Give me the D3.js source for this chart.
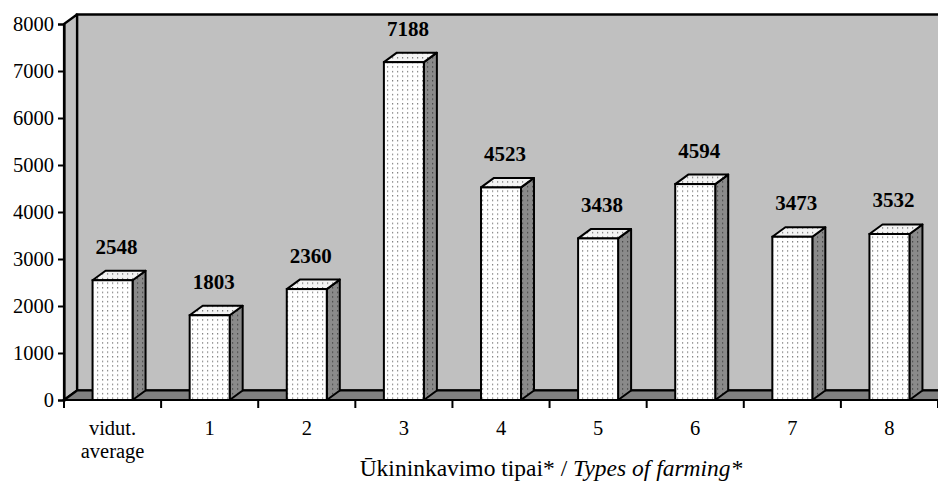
<!DOCTYPE html>
<html>
<head>
<meta charset="utf-8">
<script src="https://cdn.jsdelivr.net/npm/d3@7/dist/d3.min.js"></script>
<style>
html,body{margin:0;padding:0;background:#fff;}
svg{display:block;}
text{font-family:"Liberation Serif","Times New Roman",serif;fill:#000;}
</style>
</head>
<body>
<svg id="chart" width="938" height="482"></svg>
<script>
const categories = ["vidut.|average", "1", "2", "3", "4", "5", "6", "7", "8"];
const values = [2548, 1803, 2360, 7188, 4523, 3438, 4594, 3473, 3532];
const yTicks = [0, 1000, 2000, 3000, 4000, 5000, 6000, 7000, 8000];
const titleMain = "Ūkininkavimo tipai* / ";
const titleItalic = "Types of farming*";

(function () {
const svg = d3.select("#chart");
const W = 938;
const pLeft = 64, pRight = 938, pBottom = 400, pTop = 24;
const dx = 13, dy = -9.5;
const barW = 40;

const x = d3.scaleBand().domain(categories).range([pLeft, pRight]).padding(0);
const y = d3.scaleLinear().domain([0, 8000]).range([pBottom, pTop]);

const defs = svg.append("defs");
function dots(id, bg, dot) {
  const p = defs.append("pattern").attr("id", id).attr("patternUnits", "userSpaceOnUse")
    .attr("width", 5).attr("height", 4.6);
  p.append("rect").attr("width", 5).attr("height", 4.6).attr("fill", bg);
  p.append("rect").attr("x", 2).attr("y", 2).attr("width", 1.2).attr("height", 1.2).attr("fill", dot);
}
dots("dFront", "#ffffff", "#6a6a6a");
dots("dTop", "#f4f4f4", "#666666");
dots("dSide", "#8a8a8a", "#3a3a3a");

const y8 = y(8000), y0 = y(0);
// back wall
svg.append("rect").attr("x", pLeft + dx).attr("y", y8 + dy)
  .attr("width", W + 20 - (pLeft + dx)).attr("height", (y0 + dy) - (y8 + dy))
  .attr("fill", "#c0c0c0").attr("stroke", "#000").attr("stroke-width", 2.5);
// left wall
svg.append("path").attr("d", `M${pLeft},${y0}L${pLeft+dx},${y0+dy}L${pLeft+dx},${y8+dy}L${pLeft},${y8}Z`)
  .attr("fill", "#c0c0c0").attr("stroke", "#000").attr("stroke-width", 2.2).attr("stroke-linejoin", "round");
// floor
svg.append("path").attr("d", `M${pLeft},${y0}L${pLeft+dx},${y0+dy}L${W+30},${y0+dy}L${W+30},${y0}Z`)
  .attr("fill", "#808080").attr("stroke", "#000").attr("stroke-width", 2.2);

// bars
const bars = svg.append("g");
categories.forEach((c, i) => {
  const cx = x(c) + x.bandwidth() / 2;
  const x0 = cx - barW / 2, x1 = cx + barW / 2;
  const yt = y(values[i]);
  const g = bars.append("g");
  g.append("path").attr("d", `M${x1},${y0}L${x1+dx},${y0+dy}L${x1+dx},${yt+dy}L${x1},${yt}Z`)
    .attr("fill", "url(#dSide)").attr("stroke", "#000").attr("stroke-width", 2).attr("stroke-linejoin", "round");
  g.append("path").attr("d", `M${x0},${yt}L${x0+dx},${yt+dy}L${x1+dx},${yt+dy}L${x1},${yt}Z`)
    .attr("fill", "url(#dTop)").attr("stroke", "#000").attr("stroke-width", 2).attr("stroke-linejoin", "round");
  g.append("rect").attr("x", x0).attr("y", yt).attr("width", barW).attr("height", y0 - yt)
    .attr("fill", "url(#dFront)").attr("stroke", "#000").attr("stroke-width", 2);
  svg.append("text").attr("x", cx + 4).attr("y", yt + dy - 17)
    .attr("text-anchor", "middle").attr("font-weight", "bold").attr("font-size", "21px")
    .text(values[i]);
});

// y axis
const yAxis = d3.axisLeft(y).tickValues(yTicks).tickSize(6).tickPadding(4).tickFormat(d3.format("d"));
const ya = svg.append("g").attr("transform", `translate(${pLeft},0)`).call(yAxis);
ya.select(".domain").attr("stroke", "#000").attr("stroke-width", 2.2);
ya.selectAll(".tick line").attr("stroke", "#000").attr("stroke-width", 2);
ya.selectAll(".tick text").attr("font-size", "20.5px").attr("font-family", "Liberation Serif, Times New Roman, serif").attr("fill", "#000");

// x axis line + boundary ticks
svg.append("line").attr("x1", pLeft).attr("x2", W + 30).attr("y1", y0).attr("y2", y0)
  .attr("stroke", "#000").attr("stroke-width", 2.2);
const bounds = categories.map(c => x(c)).concat([x(categories[categories.length - 1]) + x.bandwidth()]);
svg.append("g").selectAll("line").data(bounds).join("line")
  .attr("x1", d => d).attr("x2", d => d).attr("y1", y0).attr("y2", y0 + 8)
  .attr("stroke", "#000").attr("stroke-width", 2);

// category labels
categories.forEach(c => {
  const cx = x(c) + x.bandwidth() / 2;
  const parts = c.split("|");
  parts.forEach((p, j) => {
    svg.append("text").attr("x", cx).attr("y", 435 + j * 23)
      .attr("text-anchor", "middle").attr("font-size", "20.5px").text(p);
  });
});

// axis title
const t = svg.append("text").attr("x", 551).attr("y", 476).attr("text-anchor", "middle").attr("font-size", "23.5px");
t.append("tspan").text(titleMain);
t.append("tspan").attr("font-style", "italic").text(titleItalic);
})();
</script>
</body>
</html>
